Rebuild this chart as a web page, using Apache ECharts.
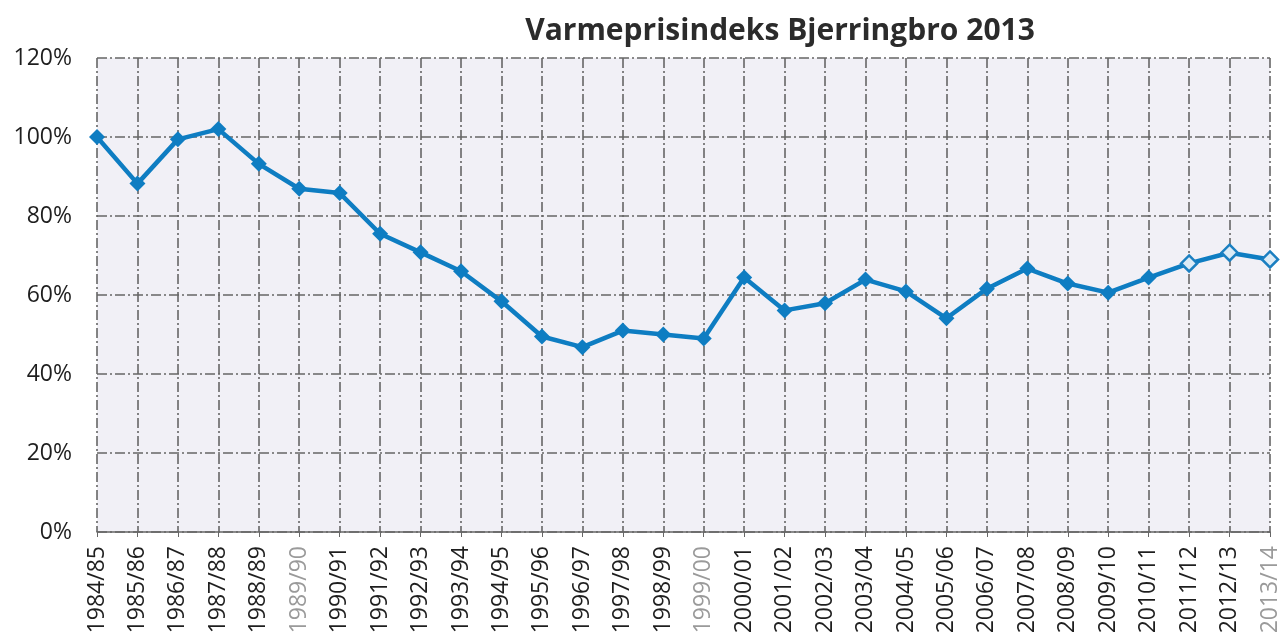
<!DOCTYPE html>
<html>
<head>
<meta charset="utf-8">
<script src="https://cdn.jsdelivr.net/npm/echarts@6/dist/echarts.min.js"></script>
<style>
  html, body { margin: 0; padding: 0; background: #fff; }
  #chart { width: 1283px; height: 637px; }
</style>
</head>
<body>
<div id="chart"></div>
<script>
var seasons = ['1984/85', '1985/86', '1986/87', '1987/88', '1988/89', '1989/90', '1990/91',
    '1991/92', '1992/93', '1993/94', '1994/95', '1995/96', '1996/97', '1997/98', '1998/99',
    '1999/00', '2000/01', '2001/02', '2002/03', '2003/04', '2004/05', '2005/06', '2006/07',
    '2007/08', '2008/09', '2009/10', '2010/11', '2011/12', '2012/13', '2013/14'];
var indeks = [100, 88.2, 99.4, 102, 93.2, 86.9, 85.8, 75.5, 70.8, 66, 58.4, 49.5, 46.8, 51,
    50, 49, 64.4, 56.1, 57.9, 63.9, 60.9, 54.1, 61.6, 66.7, 62.9, 60.6, 64.4, 68, 70.7, 69];
// labels that came out faded in the scan
var faded = ['1989/90', '1999/00', '2013/14'];
var hollowFrom = 27;

var chart = echarts.init(document.getElementById('chart'));

var catData = seasons.map(function (s) {
    if (faded.indexOf(s) >= 0) {
        return {value: s, textStyle: {color: '#9a9a9a'}};
    }
    return s;
});

var lineData = indeks.map(function (v, i) {
    if (i >= hollowFrom) {
        return {value: v, itemStyle: {color: '#dcebf6', borderColor: '#1a7fc1', borderWidth: 2.5}};
    }
    return v;
});

var grid_line = {color: '#666', width: 1.6, type: [10, 3, 2, 3]};

chart.setOption({
    animation: false,
    title: {
        text: 'Varmeprisindeks Bjerringbro 2013',
        left: 775,
        textAlign: 'center',
        top: 11,
        textStyle: {fontFamily: 'Open Sans', fontWeight: 'bold', fontSize: 30, color: '#2b2b2b'}
    },
    grid: {left: 97, right: 13, top: 58, bottom: 105, show: true, backgroundColor: '#f1f0f6', borderWidth: 0},
    xAxis: {
        type: 'category',
        data: catData,
        boundaryGap: false,
        axisLine: {show: true, lineStyle: {color: '#666', width: 1.6}},
        axisTick: {show: true, length: 5, lineStyle: {color: '#666'}},
        axisLabel: {
            rotate: 90, interval: 0, margin: 14,
            fontFamily: 'Open Sans', fontSize: 23, color: '#1e1e1e'
        },
        splitLine: {show: true, lineStyle: grid_line}
    },
    yAxis: {
        type: 'value',
        min: 0, max: 120, interval: 20,
        axisLine: {show: false},
        axisTick: {show: false},
        axisLabel: {
            formatter: '{value}%', margin: 25,
            fontFamily: 'Open Sans', fontSize: 23, color: '#1e1e1e'
        },
        splitLine: {show: true, lineStyle: grid_line}
    },
    series: [{
        type: 'line',
        data: lineData,
        symbol: 'diamond',
        symbolSize: 16,
        lineStyle: {color: '#0e7dc2', width: 4.5},
        itemStyle: {color: '#0e7dc2'}
    }]
});
</script>
</body>
</html>
